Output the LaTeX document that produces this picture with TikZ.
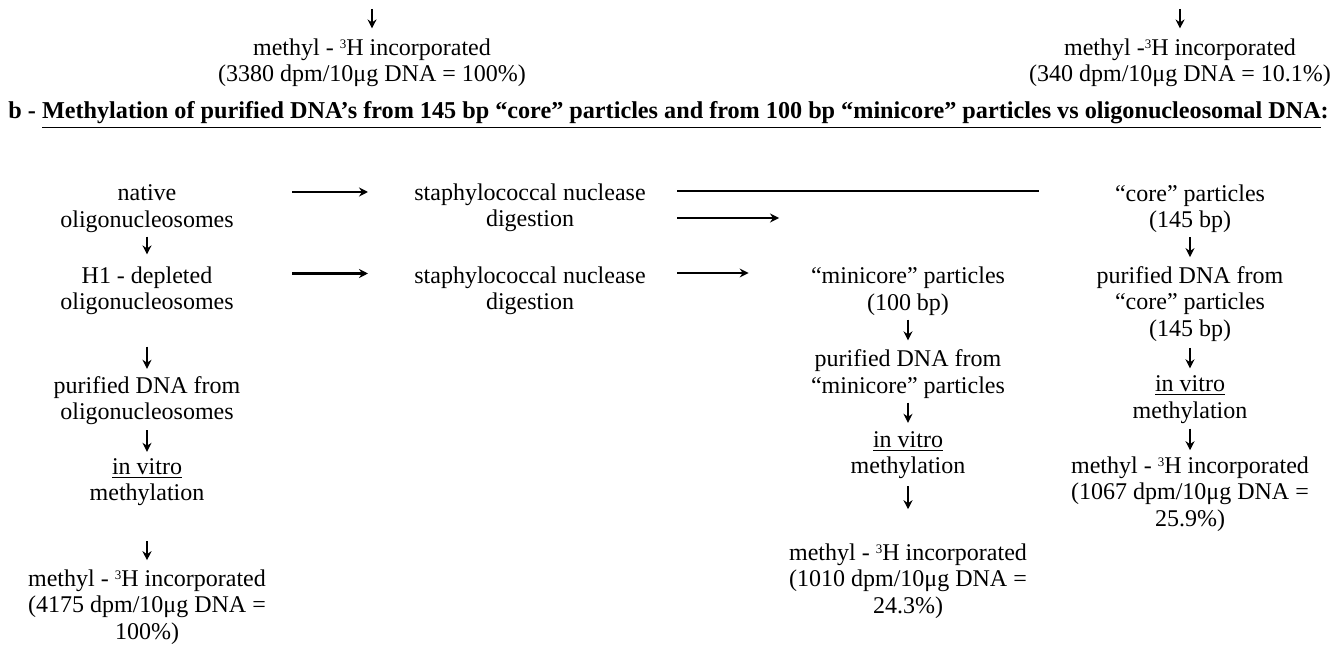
\documentclass[tikz,border=0pt]{standalone}
\usepackage{fontspec}
\setmainfont{Liberation Serif}
\usetikzlibrary{arrows.meta, positioning}

\newcommand{\supthree}{\raisebox{3.6pt}{\fontsize{6.5}{7}\selectfont 3}}

\begin{document}
\begin{tikzpicture}[
  x=0.5pt, y=-0.5pt,
  font=\fontsize{12}{13.25}\selectfont,
  txt/.style  = {align=center, inner sep=0pt},
  arr/.style  = {-{Stealth[length=4.5pt, width=4.5pt]}, line width=1pt},
  harr/.style = {-{Stealth[length=4.5pt, width=4.5pt]}, line width=1.2pt},
]
\useasboundingbox (0,0) rectangle (1332,646);

%% ── Top: results carried over ──────────────────────────────────────────────
\coordinate (topL) at (372,9);
\coordinate (topR) at (1180,9);
\node[txt] (resL) at (372,63)
  {methyl - \supthree H incorporated\\(3380 dpm/10μg DNA = 100\%)};
\node[txt] (resR) at (1180,63)
  {methyl -\supthree H incorporated\\(340 dpm/10μg DNA = 10.1\%)};
\draw[arr, shorten >=5pt] (topL) -- (resL.north);
\draw[arr, shorten >=5pt] (topR) -- (resR.north);

%% ── Title b ─────────────────────────────────────────────────────────────────
\node[txt, anchor=west, font=\fontsize{12.1}{13.25}\selectfont\bfseries] (title) at (8,115)
  {b - \underline{Methylation of purified DNA’s from 145 bp “core” particles and from 100 bp “minicore” particles vs oligonucleosomal DNA}:};

%% ── Column 1: oligonucleosomes ─────────────────────────────────────────────
\node[txt] (nat) at (147,208.5) {native\\oligonucleosomes};
\node[txt] (hone) at (147,291) {H1 - depleted\\oligonucleosomes};
\node[txt] (purO) at (147,400.5) {purified DNA from\\oligonucleosomes};
\node[txt] (vitO) at (147,482) {\underline{in vitro}\\methylation};
\node[txt] (resO) at (147,607)
  {methyl - \supthree H incorporated\\(4175 dpm/10μg DNA =\\100\%)};

\draw[arr, shorten <=2pt, shorten >=6pt] (nat.south) -- (hone.north);
\draw[arr, shorten <=15.5pt, shorten >=3.5pt] (hone.south) -- (purO.north);
\draw[arr, shorten <=2.5pt, shorten >=3pt] (purO.south) -- (vitO.north);
\draw[arr, shorten <=17.5pt, shorten >=4.5pt] (vitO.south) -- (resO.north);

%% ── Column 2: nuclease digestion ───────────────────────────────────────────
\node[txt] (stA) at (530,208) {staphylococcal nuclease\\digestion};
\node[txt] (stB) at (530,291) {staphylococcal nuclease\\digestion};

\draw[harr, shorten <=29pt, shorten >=23pt]
  ([yshift=8.25pt]nat.east) -- ([yshift=8.25pt]nat.east -| stA.west);
\draw[harr, shorten <=29pt, shorten >=23pt]
  ([yshift=8.75pt]hone.east) -- ([yshift=8.75pt]hone.east -| stB.west);

%% ── Column 4: core particles ───────────────────────────────────────────────
\node[txt] (core) at (1190,208.5) {“core” particles\\(145 bp)};
\node[txt] (purC) at (1190,304) {purified DNA from\\“core” particles\\(145 bp)};
\node[txt] (vitC) at (1190,399.5) {\underline{in vitro}\\methylation};
\node[txt] (resC) at (1190,494)
  {methyl - \supthree H incorporated\\(1067 dpm/10μg DNA =\\25.9\%)};

\draw[line width=1.2pt, shorten <=15.5pt, shorten >=38pt]
  ([yshift=8.5pt]stA.east) -- ([yshift=8.5pt]stA.east -| core.west);
\draw[harr] ([xshift=15.5pt, yshift=-5pt]stA.east) -- ++(102,0);

\draw[arr, shorten <=2pt, shorten >=4.5pt] (core.south) -- (purC.north);
\draw[arr, shorten <=3pt, shorten >=3.5pt] (purC.south) -- (vitC.north);
\draw[arr, shorten <=2.5pt, shorten >=3pt] (vitC.south) -- (resC.north);

%% ── Column 3: minicore particles ───────────────────────────────────────────
\node[txt] (mini) at (908,291) {“minicore” particles\\(100 bp)};
\node[txt] (purM) at (908,374) {purified DNA from\\“minicore” particles};
\node[txt] (vitM) at (908,455) {\underline{in vitro}\\methylation};
\node[txt] (resM) at (908,581)
  {methyl - \supthree H incorporated\\(1010 dpm/10μg DNA =\\24.3\%)};

\draw[harr, shorten <=15.5pt, shorten >=31pt]
  ([yshift=9pt]stB.east) -- ([yshift=9pt]stB.east -| mini.west);

\draw[arr, shorten <=2pt, shorten >=4.5pt] (mini.south) -- (purM.north);
\draw[arr, shorten <=2pt, shorten >=4pt] (purM.south) -- (vitM.north);
\draw[arr, shorten <=3.5pt, shorten >=17pt] (vitM.south) -- (resM.north);

\end{tikzpicture}
\end{document}
